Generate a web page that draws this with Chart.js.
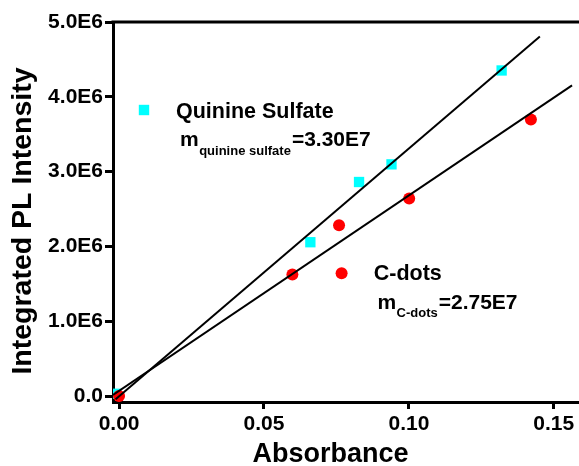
<!DOCTYPE html>
<html><head><meta charset="utf-8">
<script src="https://cdn.jsdelivr.net/npm/chart.js@4/dist/chart.umd.min.js"></script>
<style>html,body{margin:0;padding:0;background:#fff;overflow:hidden}#wrap{width:579px;height:466px;position:relative}</style>
</head><body><div id="wrap"><canvas id="c"></canvas></div>
<script>
const quinineX = [-0.001, 0.0660, 0.0828, 0.0940, 0.1320];
const quinineY = [0.03e6, 2.056e6, 2.861e6, 3.097e6, 4.352e6];
const cdotsX = [0, 0.0598, 0.0759, 0.1001, 0.1421];
const cdotsY = [0, 1.625e6, 2.283e6, 2.640e6, 3.698e6];
const quinineFitX = [-0.0012, 0.1452];
const quinineFitY = [-0.044e6, 4.806e6];
const cdotsFitX = [-0.0021, 0.1563];
const cdotsFitY = [0.013e6, 4.152e6];
const xTicks = [0, 0.05, 0.10, 0.15];
const xTickLabels = ['0.00', '0.05', '0.10', '0.15'];
const yTicks = [0, 1e6, 2e6, 3e6, 4e6, 5e6];
const yTickLabels = ['0.0', '1.0E6', '2.0E6', '3.0E6', '4.0E6', '5.0E6'];
const seriesNames = ['Quinine Sulfate', 'C-dots'];
const slopeSubs = ['quinine sulfate', 'C-dots'];
const slopeValues = ['=3.30E7', '=2.75E7'];
const xTitle = 'Absorbance';
const yTitle = 'Integrated PL Intensity';

const FONT = '"Liberation Sans", Arial, sans-serif';
const CYAN = '#00FFFF';
const RED = '#FF0000';

const zip = (xs, ys) => xs.map((x, i) => ({x, y: ys[i]}));

const decor = {
  id: 'decor',
  afterDraw(chart) {
    const ctx = chart.ctx;
    const a = chart.chartArea;
    ctx.save();
    // top frame line
    ctx.strokeStyle = '#000';
    ctx.lineWidth = 3;
    ctx.beginPath();
    ctx.moveTo(a.left - 1.5, a.top);
    ctx.lineTo(a.right + 2, a.top);
    ctx.stroke();

    ctx.fillStyle = '#000';
    // axis titles
    ctx.font = 'bold 27px ' + FONT;
    ctx.textAlign = 'center';
    ctx.textBaseline = 'alphabetic';
    ctx.fillText(xTitle, a.left + 217.5, 462);
    ctx.save();
    ctx.translate(30.5, 221);
    ctx.rotate(-Math.PI / 2);
    ctx.font = 'bold 28.5px ' + FONT;
    ctx.fillText(yTitle, 0, 0);
    ctx.restore();

    // legend entries
    ctx.textAlign = 'left';
    const entries = [
      {mx: 144, my: 110, shape: 'rect', color: CYAN, tx: 176, ty: 118, sx: 180, sy: 145.5, subY: 154.5},
      {mx: 341.6, my: 273.3, shape: 'circle', color: RED, tx: 373.7, ty: 280, sx: 377.4, sy: 308.5, subY: 316.5}
    ];
    entries.forEach((e, i) => {
      ctx.fillStyle = e.color;
      if (e.shape === 'rect') {
        ctx.fillRect(e.mx - 5.2, e.my - 5.2, 10.4, 10.4);
      } else {
        ctx.beginPath();
        ctx.arc(e.mx, e.my, 6, 0, Math.PI * 2);
        ctx.fill();
      }
      ctx.fillStyle = '#000';
      ctx.font = 'bold 21.5px ' + FONT;
      ctx.fillText(seriesNames[i], e.tx, e.ty);
      ctx.font = 'bold 21px ' + FONT;
      ctx.fillText('m', e.sx, e.sy);
      const mw = ctx.measureText('m').width;
      ctx.font = 'bold 13px ' + FONT;
      ctx.fillText(slopeSubs[i], e.sx + mw + 0.5, e.subY);
      const sw = ctx.measureText(slopeSubs[i]).width;
      ctx.font = 'bold 21px ' + FONT;
      ctx.fillText(slopeValues[i], e.sx + mw + 0.5 + sw + 1, e.sy);
    });
    ctx.restore();
  }
};

new Chart(document.getElementById('c'), {
  type: 'scatter',
  data: {
    datasets: [
      {type: 'line', label: 'QS fit', data: zip(quinineFitX, quinineFitY), borderColor: '#000', borderWidth: 2, pointRadius: 0, fill: false},
      {type: 'line', label: 'C-dots fit', data: zip(cdotsFitX, cdotsFitY), borderColor: '#000', borderWidth: 2, pointRadius: 0, fill: false},
      {label: seriesNames[1], data: zip(cdotsX, cdotsY), pointStyle: 'circle', pointRadius: 6, backgroundColor: RED, borderColor: RED, borderWidth: 0},
      {label: seriesNames[0], data: zip(quinineX, quinineY), pointStyle: 'rect', pointRadius: 7.3, backgroundColor: CYAN, borderColor: CYAN, borderWidth: 0}
    ]
  },
  options: {
    responsive: true,
    maintainAspectRatio: false,
    animation: false,
    events: [],
    layout: {autoPadding: false, padding: {top: 22, left: 0, right: 0, bottom: 0}},
    plugins: {legend: {display: false}, tooltip: {enabled: false}},
    scales: {
      x: {
        type: 'linear',
        min: -0.0021,
        max: 0.1587,
        afterBuildTicks: s => { s.ticks = xTicks.map(v => ({value: v})); },
        afterFit: s => { s.height = 64; s.paddingLeft = 0; s.paddingRight = 0; },
        ticks: {
          callback: (v, i) => xTickLabels[i],
          color: '#000',
          font: {family: FONT, size: 21, weight: 'bold'},
          padding: 3,
          maxRotation: 0,
          autoSkip: false
        },
        grid: {display: true, drawOnChartArea: false, drawTicks: true, tickLength: 7, tickWidth: 3, tickColor: '#000'},
        border: {display: true, color: '#000', width: 3}
      },
      y: {
        type: 'linear',
        min: -0.08e6,
        max: 5.0e6,
        afterBuildTicks: s => { s.ticks = yTicks.map(v => ({value: v})); },
        afterFit: s => { s.width = 113; s.paddingTop = 0; s.paddingBottom = 0; },
        ticks: {
          callback: (v, i) => yTickLabels[i],
          color: '#000',
          font: {family: FONT, size: 21, weight: 'bold'},
          padding: 2,
          autoSkip: false
        },
        grid: {display: true, drawOnChartArea: false, drawTicks: true, tickLength: 8, tickWidth: 3, tickColor: '#000'},
        border: {display: true, color: '#000', width: 3}
      }
    }
  },
  plugins: [decor]
});
</script>
</body></html>
